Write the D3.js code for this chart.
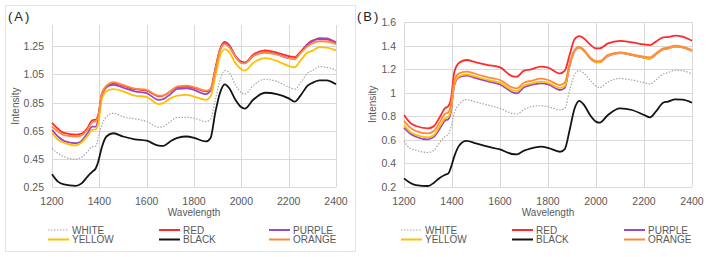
<!DOCTYPE html>
<html>
<head>
<meta charset="utf-8">
<script src="https://cdn.jsdelivr.net/npm/d3@7"></script>
<style>
  body { margin: 0; background: #fff; }
  svg { display: block; font-family: "Liberation Sans", Arial, sans-serif; }
  .tick-label { font-size: 10.5px; fill: #595959; }
  .axis-title { font-size: 10px; fill: #595959; }
  .legend-text { font-size: 10px; fill: #595959; }
  .panel-label { font-size: 13px; fill: #222; letter-spacing: 2px; }
</style>
</head>
<body>
<div id="chart"></div>
<script>
// shared wavelength grid (nm)
var wavelengths = [1200, 1225, 1250, 1300, 1325, 1350, 1370, 1385, 1395, 1410, 1430, 1460, 1500, 1550, 1600,
  1650, 1670, 1700, 1730, 1770, 1800, 1850, 1870, 1890, 1910, 1930, 1950, 1975, 2000, 2015, 2050, 2100,
  2150, 2200, 2225, 2250, 2280, 2300, 2330, 2360, 2400];

var seriesNames = ['WHITE', 'RED', 'PURPLE', 'YELLOW', 'BLACK', 'ORANGE'];

// panel (A)
var whiteA = [0.527, 0.49, 0.467, 0.449, 0.463, 0.503, 0.538, 0.54, 0.6, 0.69, 0.75, 0.775, 0.75, 0.735, 0.716,
  0.676, 0.68, 0.716, 0.746, 0.746, 0.74, 0.716, 0.733, 0.87, 1.01, 1.077, 1.06, 0.976, 0.92, 0.91, 0.97, 1.016,
  1.0, 0.96, 0.945, 0.99, 1.06, 1.077, 1.105, 1.1, 1.08];
var redA = [0.707, 0.665, 0.635, 0.623, 0.63, 0.67, 0.725, 0.73, 0.76, 0.9, 0.96, 0.985, 0.97, 0.945, 0.935,
  0.895, 0.9, 0.93, 0.96, 0.963, 0.955, 0.93, 0.945, 1.09, 1.23, 1.28, 1.255, 1.18, 1.14, 1.135, 1.19, 1.22,
  1.205, 1.18, 1.172, 1.21, 1.265, 1.29, 1.3, 1.298, 1.275];
var purpleA = [0.658, 0.61, 0.579, 0.562, 0.579, 0.633, 0.68, 0.68, 0.73, 0.91, 0.96, 0.976, 0.957, 0.93, 0.917,
  0.87, 0.875, 0.91, 0.948, 0.952, 0.94, 0.91, 0.936, 1.08, 1.224, 1.27, 1.247, 1.177, 1.134, 1.13, 1.18, 1.207,
  1.193, 1.165, 1.16, 1.205, 1.264, 1.283, 1.307, 1.305, 1.276];
var yellowA = [0.638, 0.586, 0.567, 0.547, 0.567, 0.614, 0.657, 0.66, 0.7, 0.87, 0.93, 0.945, 0.93, 0.9, 0.89,
  0.84, 0.846, 0.88, 0.9, 0.905, 0.893, 0.87, 0.893, 1.035, 1.18, 1.229, 1.205, 1.13, 1.087, 1.077, 1.13, 1.165,
  1.146, 1.11, 1.1, 1.148, 1.205, 1.217, 1.243, 1.24, 1.22];
var blackA = [0.342, 0.29, 0.27, 0.26, 0.278, 0.326, 0.36, 0.385, 0.43, 0.53, 0.61, 0.633, 0.61, 0.59, 0.58,
  0.545, 0.543, 0.575, 0.6, 0.61, 0.6, 0.575, 0.6, 0.78, 0.92, 0.98, 0.95, 0.87, 0.817, 0.808, 0.87, 0.92,
  0.91, 0.88, 0.857, 0.9, 0.97, 0.99, 1.007, 1.008, 0.98];
var orangeA = [0.68, 0.645, 0.62, 0.61, 0.618, 0.66, 0.71, 0.72, 0.75, 0.91, 0.97, 0.995, 0.975, 0.95, 0.94,
  0.9, 0.9, 0.93, 0.965, 0.97, 0.96, 0.935, 0.945, 1.08, 1.22, 1.265, 1.24, 1.175, 1.13, 1.128, 1.18, 1.205,
  1.19, 1.165, 1.16, 1.2, 1.25, 1.27, 1.285, 1.283, 1.265];

// panel (B)
var whiteB = [0.59, 0.526, 0.51, 0.49, 0.51, 0.58, 0.625, 0.645, 0.7, 0.83, 0.9, 0.94, 0.92, 0.894, 0.866,
  0.823, 0.818, 0.857, 0.88, 0.888, 0.88, 0.852, 0.866, 1.02, 1.15, 1.186, 1.163, 1.107, 1.056, 1.044, 1.09, 1.12,
  1.107, 1.084, 1.073, 1.107, 1.158, 1.169, 1.19, 1.186, 1.158];
var redB = [0.809, 0.744, 0.716, 0.696, 0.716, 0.795, 0.866, 0.886, 0.94, 1.178, 1.254, 1.277, 1.257, 1.234, 1.214,
  1.14, 1.135, 1.186, 1.197, 1.22, 1.212, 1.163, 1.186, 1.32, 1.452, 1.48, 1.46, 1.41, 1.376, 1.376, 1.418, 1.44,
  1.427, 1.41, 1.404, 1.433, 1.47, 1.472, 1.484, 1.475, 1.44];
var purpleB = [0.7, 0.653, 0.625, 0.602, 0.625, 0.696, 0.76, 0.775, 0.83, 1.065, 1.13, 1.144, 1.122, 1.095, 1.07,
  1.005, 0.993, 1.045, 1.065, 1.078, 1.07, 1.022, 1.04, 1.225, 1.352, 1.383, 1.355, 1.292, 1.258, 1.258, 1.312, 1.336,
  1.318, 1.296, 1.288, 1.326, 1.368, 1.374, 1.39, 1.384, 1.353];
var yellowB = [0.724, 0.668, 0.64, 0.62, 0.64, 0.718, 0.78, 0.795, 0.85, 1.078, 1.14, 1.155, 1.135, 1.107, 1.084,
  1.022, 1.013, 1.06, 1.078, 1.093, 1.084, 1.04, 1.056, 1.234, 1.356, 1.385, 1.356, 1.293, 1.26, 1.26, 1.314, 1.338,
  1.32, 1.298, 1.29, 1.328, 1.37, 1.376, 1.393, 1.386, 1.355];
var blackB = [0.271, 0.234, 0.214, 0.206, 0.234, 0.277, 0.3, 0.313, 0.36, 0.46, 0.55, 0.59, 0.568, 0.54, 0.517,
  0.478, 0.475, 0.506, 0.526, 0.54, 0.53, 0.497, 0.52, 0.68, 0.86, 0.93, 0.895, 0.81, 0.753, 0.744, 0.81, 0.866,
  0.852, 0.81, 0.79, 0.84, 0.914, 0.923, 0.942, 0.94, 0.914];
var orangeB = [0.76, 0.704, 0.673, 0.653, 0.673, 0.753, 0.818, 0.832, 0.89, 1.107, 1.163, 1.178, 1.158, 1.13, 1.107,
  1.044, 1.036, 1.084, 1.1, 1.118, 1.107, 1.064, 1.084, 1.248, 1.36, 1.39, 1.362, 1.3, 1.268, 1.268, 1.32, 1.342,
  1.325, 1.305, 1.3, 1.334, 1.376, 1.382, 1.399, 1.39, 1.362];

var xTicks = [1200, 1400, 1600, 1800, 2000, 2200, 2400];
var yTicksA = [0.25, 0.45, 0.65, 0.85, 1.05, 1.25];
var yTicksB = [0.2, 0.4, 0.6, 0.8, 1, 1.2, 1.4, 1.6];

var colors = {
  WHITE: '#a6a6a6',
  RED: '#ff2a2a',
  PURPLE: '#9b47c9',
  YELLOW: '#ffc000',
  BLACK: '#141414',
  ORANGE: '#ff8a3c'
};

var svg = d3.select('#chart').append('svg')
  .attr('width', 717)
  .attr('height', 257);

// frame around panel A
svg.append('rect')
  .attr('x', 5.5).attr('y', 5.5)
  .attr('width', 350).attr('height', 246)
  .attr('fill', 'none')
  .attr('stroke', '#e3e3e3');

function drawPanel(p) {
  var g = svg.append('g');

  var x = d3.scaleLinear().domain([1200, 2400]).range([p.left, p.right]);
  var y = d3.scaleLinear().domain(p.yDomain).range([p.bottom, p.top]);

  // gridlines
  g.selectAll('.hgrid').data(p.yTicks).enter()
    .append('line')
    .attr('x1', p.left).attr('x2', p.right)
    .attr('y1', d => Math.round(y(d)) + 0.5)
    .attr('y2', d => Math.round(y(d)) + 0.5)
    .attr('stroke', '#d9d9d9');

  g.selectAll('.vgrid').data(xTicks).enter()
    .append('line')
    .attr('x1', d => Math.round(x(d)) + 0.5)
    .attr('x2', d => Math.round(x(d)) + 0.5)
    .attr('y1', p.top).attr('y2', p.bottom)
    .attr('stroke', '#d9d9d9');

  // tick labels
  g.selectAll('.ylab').data(p.yTicks).enter()
    .append('text')
    .attr('class', 'tick-label')
    .attr('x', p.left - 8)
    .attr('y', d => y(d) + 4)
    .attr('text-anchor', 'end')
    .text(d => p.fmt(d));

  g.selectAll('.xlab').data(xTicks).enter()
    .append('text')
    .attr('class', 'tick-label')
    .attr('x', d => x(d))
    .attr('y', p.bottom + 18)
    .attr('text-anchor', 'middle')
    .text(d => d);

  g.append('text')
    .attr('class', 'axis-title')
    .attr('x', (p.left + p.right) / 2)
    .attr('y', p.bottom + 29)
    .attr('text-anchor', 'middle')
    .text('Wavelength');

  g.append('text')
    .attr('class', 'axis-title')
    .attr('transform', 'translate(' + p.yTitleX + ',' + ((p.top + p.bottom) / 2) + ') rotate(-90)')
    .attr('text-anchor', 'middle')
    .text('Intensity');

  g.append('text')
    .attr('class', 'panel-label')
    .attr('x', p.labelX)
    .attr('y', 21)
    .text(p.label);

  // lines
  var line = d3.line()
    .x((d, i) => x(wavelengths[i]))
    .y(d => y(d))
    .curve(d3.curveMonotoneX);

  seriesNames.forEach(function(name, k) {
    g.append('path')
      .datum(p.series[k])
      .attr('fill', 'none')
      .attr('stroke', colors[name])
      .attr('stroke-width', name == 'WHITE' ? 1.2 : 1.8)
      .attr('stroke-dasharray', name == 'WHITE' ? '1.5,1.5' : null)
      .attr('d', line);
  });

  // legend, 3 columns x 2 rows
  var leg = g.selectAll('.leg').data(seriesNames).enter()
    .append('g')
    .attr('transform', (d, i) => 'translate(' + p.legendX[i % 3] + ',' + (i < 3 ? 230 : 239.5) + ')');

  leg.append('line')
    .attr('x1', 0).attr('x2', 21)
    .attr('y1', 0).attr('y2', 0)
    .attr('stroke', d => colors[d])
    .attr('stroke-width', d => d == 'WHITE' ? 1.2 : 2)
    .attr('stroke-dasharray', d => d == 'WHITE' ? '1.5,1.5' : null);

  leg.append('text')
    .attr('class', 'legend-text')
    .attr('x', 24)
    .attr('y', 3.5)
    .text(d => d);
}

drawPanel({
  label: '(A)', labelX: 8,
  left: 52, right: 336, top: 25, bottom: 187.3,
  yDomain: [0.25, 1.40], yTicks: yTicksA,
  fmt: d3.format('.2f'),
  yTitleX: 19,
  legendX: [48, 159, 269],
  series: [whiteA, redA, purpleA, yellowA, blackA, orangeA]
});

drawPanel({
  label: '(B)', labelX: 357,
  left: 404, right: 692, top: 22, bottom: 186.7,
  yDomain: [0.2, 1.6], yTicks: yTicksB,
  fmt: d => d3.format('~g')(d),
  yTitleX: 376,
  legendX: [401, 512, 624],
  series: [whiteB, redB, purpleB, yellowB, blackB, orangeB]
});
</script>
</body>
</html>
